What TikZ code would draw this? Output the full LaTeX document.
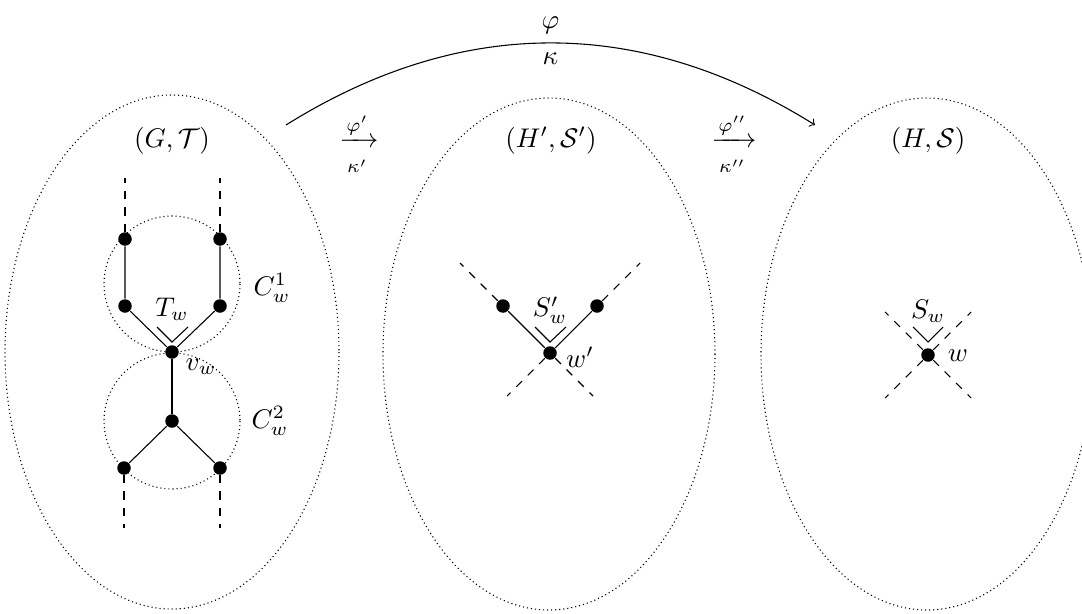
\documentclass[tikz,border=0pt]{standalone}
\usepackage{amsmath}
\begin{document}
\begin{tikzpicture}[x=0.3704pt,y=-0.3704pt,
  dot/.style={circle,fill=black,inner sep=0pt,minimum size=5pt},
  region/.style={draw,dash pattern=on 0.4pt off 1.1pt},
  ext/.style={dashed},
  vmark/.style={line width=0.4pt}]
\useasboundingbox (0,0) rectangle (1082,613);
% regions
\draw[region] (172,352) ellipse [x radius=167, y radius=257];
\draw[region] (549,354) ellipse [x radius=166, y radius=256];
\draw[region] (927,354) ellipse [x radius=166, y radius=256];
\draw[region] (172,284) circle [radius=68];
\draw[region] (172,421) circle [radius=68];
% titles
\node (tG) at (172,141) {$(G,\mathcal{T})$};
\node (tH1) at (551,141) {$(H',\mathcal{S}')$};
\node (tH) at (928,141) {$(H,\mathcal{S})$};
\node (f1) at (359,144) {$\xrightarrow[\rule{0pt}{7.5pt}\kappa']{\varphi'}$};
\node (f2) at (734,144) {$\xrightarrow[\rule{0pt}{7.5pt}\kappa'']{\varphi''}$};
% big arc
\coordinate (s) at (286,125);
\coordinate (e) at (815,125);
\draw[->] (s) to[bend left=32] node[above] (phi) {$\varphi$} node[below] (kap) {$\kappa$} (e);
% left graph
\node[dot] (a1) at (125,239) {};
\node[dot] (b1) at (220,239) {};
\node[dot] (a2) at (125,306) {};
\node[dot] (b2) at (220,306) {};
\node[dot] (v) at (172,352) {};
\node[dot] (m) at (172,421) {};
\node[dot] (c1) at (124,468) {};
\node[dot] (c2) at (220,468) {};
\coordinate (a0) at (125,178);
\coordinate (b0) at (220,178);
\coordinate (c3) at (124,528);
\coordinate (c4) at (220,528);
\draw (a1) -- (a2) -- (v) -- (b2) -- (b1);
\draw (v) -- (m);
\draw (c1) -- (m) -- (c2);
\draw[ext] (a1) -- (a0);
\draw[ext] (b1) -- (b0);
\draw[ext] (c1) -- (c3);
\draw[ext] (c2) -- (c4);
\coordinate (tl) at (157,327);
\coordinate (tc) at (172,342);
\coordinate (tr) at (188,327);
\draw[vmark] (tl) -- (tc) -- (tr);
\node (Tw) at (172,309) {$T_w$};
\node (vw) at (201,367) {$v_w$};
\node (C1) at (272,288) {$C_w^1$};
\node (C2) at (270,421) {$C_w^2$};
% middle graph
\node[dot] (w1) at (550,353) {};
\node[dot] (p1) at (503,306) {};
\node[dot] (p2) at (597,306) {};
\coordinate (p1x) at (460,263);
\coordinate (p2x) at (640,263);
\coordinate (w1l) at (507,396);
\coordinate (w1r) at (593,396);
\draw (p1) -- (w1) -- (p2);
\draw[ext] (p1) -- (p1x);
\draw[ext] (p2) -- (p2x);
\draw[ext] (w1) -- (w1l);
\draw[ext] (w1) -- (w1r);
\coordinate (sl) at (535,327);
\coordinate (sc) at (550,342);
\coordinate (sr) at (566,327);
\draw[vmark] (sl) -- (sc) -- (sr);
\node (Sw1) at (550,310) {$S_w'$};
\node (lw1) at (580,357) {$w'$};
% right graph
\node[dot] (w) at (928,355) {};
\coordinate (q1) at (885,312);
\coordinate (q2) at (971,312);
\coordinate (q3) at (885,398);
\coordinate (q4) at (971,398);
\draw[ext] (w) -- (q1);
\draw[ext] (w) -- (q2);
\draw[ext] (w) -- (q3);
\draw[ext] (w) -- (q4);
\coordinate (ul) at (913,327);
\coordinate (uc) at (928,342);
\coordinate (ur) at (943,327);
\draw[vmark] (ul) -- (uc) -- (ur);
\node (Sw) at (928,311) {$S_w$};
\node (lw) at (958,356) {$w$};
\end{tikzpicture}
\end{document}
